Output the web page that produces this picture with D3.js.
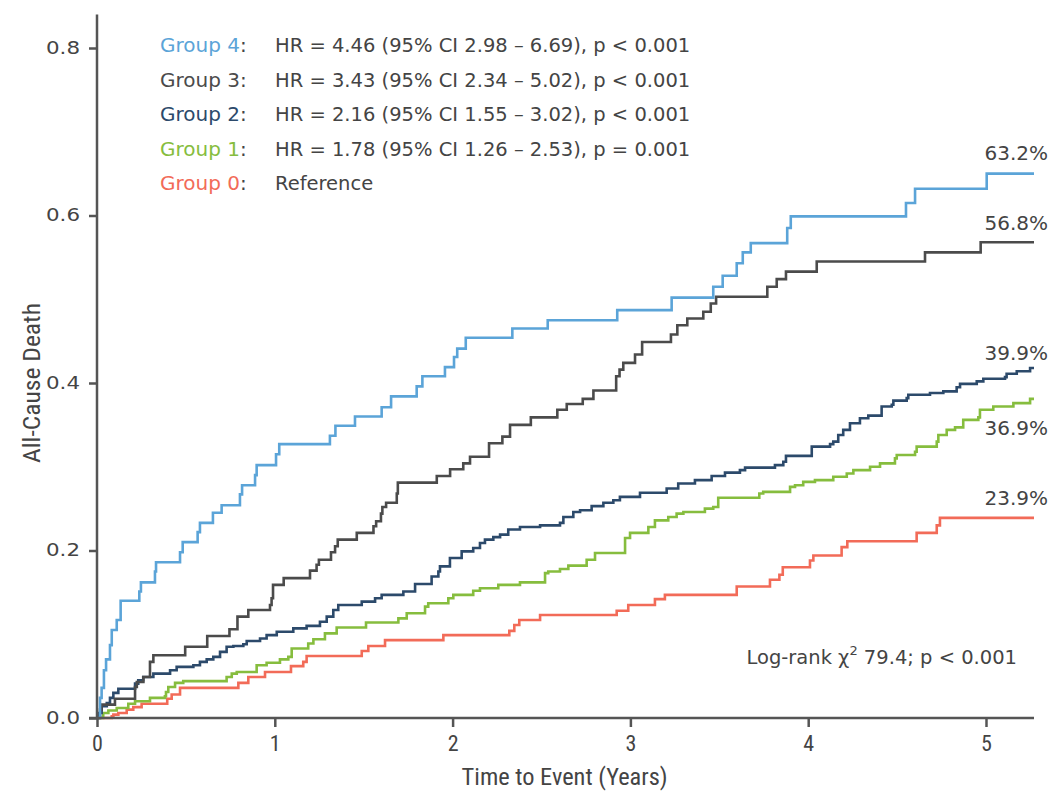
<!DOCTYPE html>
<html>
<head>
<meta charset="utf-8">
<script src="https://cdn.jsdelivr.net/npm/d3@7"></script>
<style>
  body { margin: 0; background: #fff; }
  text { font-family: "DejaVu Sans", sans-serif; fill: #444; }
  .axis path, .axis line { stroke: #555; stroke-width: 2.5; }
  .axis text { font-size: 17px; fill: #444; }
  .xaxis text { font-family: "Liberation Sans Narrow", "Roboto Condensed", sans-serif; font-size: 22px; }
  .title { font-family: "Liberation Sans Narrow", "Roboto Condensed", sans-serif; font-size: 23px; }
</style>
</head>
<body>
<div id="chart"></div>
<script>
// cumulative all-cause death, [years, proportion] at each step
const group4 = [[0,0],[0.017,0.024],[0.026,0.036],[0.039,0.057],[0.051,0.070],[0.073,0.087],[0.083,0.105],
  [0.111,0.117],[0.133,0.140],[0.238,0.151],[0.247,0.162],[0.326,0.175],[0.332,0.186],[0.467,0.198],
  [0.482,0.210],[0.566,0.222],[0.579,0.233],[0.652,0.245],[0.701,0.254],[0.804,0.267],[0.816,0.278],
  [0.889,0.290],[0.898,0.302],[1.007,0.315],[1.025,0.327],[1.31,0.337],[1.341,0.349],[1.451,0.360],
  [1.601,0.371],[1.654,0.384],[1.798,0.396],[1.830,0.408],[1.957,0.419],[2.008,0.431],[2.026,0.441],
  [2.074,0.454],[2.336,0.465],[2.535,0.475],[2.926,0.487],[3.232,0.502],[3.466,0.515],[3.519,0.528],
  [3.598,0.543],[3.632,0.556],[3.677,0.567],[3.882,0.585],[3.902,0.599],[4.55,0.615],[4.601,0.632],
  [5.004,0.650]];

const group3 = [[0,0],[0.017,0.010],[0.026,0.016],[0.101,0.023],[0.214,0.037],[0.224,0.043],[0.261,0.049],
  [0.298,0.067],[0.317,0.075],[0.496,0.085],[0.62,0.098],[0.745,0.106],[0.79,0.121],[0.851,0.129],
  [0.973,0.135],[0.982,0.143],[0.99,0.159],[1.05,0.167],[1.198,0.176],[1.235,0.183],[1.248,0.189],
  [1.316,0.198],[1.339,0.205],[1.354,0.213],[1.461,0.221],[1.555,0.229],[1.57,0.235],[1.597,0.244],
  [1.605,0.252],[1.626,0.257],[1.686,0.268],[1.692,0.281],[1.911,0.289],[1.986,0.297],[2.06,0.304],
  [2.098,0.312],[2.205,0.328],[2.28,0.336],[2.323,0.350],[2.44,0.359],[2.589,0.368],[2.642,0.375],
  [2.732,0.381],[2.792,0.391],[2.92,0.408],[2.939,0.416],[2.96,0.424],[3.026,0.434],[3.066,0.449],
  [3.228,0.458],[3.264,0.469],[3.32,0.477],[3.41,0.485],[3.452,0.495],[3.482,0.503],[3.77,0.515],
  [3.823,0.524],[3.875,0.533],[4.048,0.545],[4.657,0.556],[4.97,0.568]];

const group2 = [[0,0],[0.007,0.006],[0.026,0.014],[0.055,0.018],[0.073,0.024],[0.092,0.030],[0.12,0.035],
  [0.214,0.041],[0.232,0.045],[0.26,0.049],[0.317,0.053],[0.411,0.057],[0.448,0.061],[0.542,0.063],
  [0.579,0.067],[0.617,0.070],[0.654,0.073],[0.692,0.079],[0.729,0.085],[0.767,0.086],[0.823,0.088],
  [0.842,0.092],[0.917,0.095],[0.954,0.099],[1.011,0.103],[1.104,0.107],[1.179,0.110],[1.254,0.115],
  [1.292,0.121],[1.329,0.129],[1.357,0.135],[1.489,0.139],[1.564,0.143],[1.601,0.147],[1.723,0.151],
  [1.789,0.160],[1.882,0.169],[1.92,0.175],[1.929,0.181],[1.985,0.191],[2.051,0.199],[2.116,0.203],
  [2.154,0.209],[2.182,0.213],[2.229,0.216],[2.267,0.219],[2.313,0.225],[2.379,0.228],[2.492,0.230],
  [2.604,0.233],[2.623,0.240],[2.679,0.246],[2.717,0.248],[2.782,0.253],[2.848,0.257],[2.904,0.260],
  [2.941,0.264],[3.054,0.269],[3.204,0.274],[3.269,0.280],[3.363,0.284],[3.457,0.289],[3.532,0.293],
  [3.616,0.296],[3.645,0.299],[3.813,0.302],[3.86,0.306],[3.875,0.313],[4.02,0.324],[4.123,0.327],
  [4.141,0.330],[4.169,0.338],[4.197,0.344],[4.235,0.352],[4.291,0.358],[4.338,0.361],[4.413,0.372],
  [4.47,0.374],[4.479,0.379],[4.554,0.382],[4.563,0.386],[4.685,0.388],[4.76,0.390],[4.835,0.395],
  [4.854,0.399],[4.948,0.402],[4.985,0.405],[5.107,0.407],[5.116,0.411],[5.173,0.414],[5.248,0.418]];

const group1 = [[0,0],[0.035,0.006],[0.064,0.009],[0.111,0.012],[0.176,0.017],[0.214,0.020],[0.298,0.024],
  [0.382,0.026],[0.388,0.031],[0.401,0.037],[0.439,0.042],[0.485,0.044],[0.729,0.049],[0.758,0.053],
  [0.786,0.055],[0.898,0.063],[0.954,0.066],[1.029,0.070],[1.076,0.073],[1.095,0.083],[1.188,0.089],
  [1.217,0.094],[1.282,0.101],[1.348,0.108],[1.513,0.114],[1.695,0.119],[1.742,0.125],[1.845,0.133],
  [1.863,0.137],[1.976,0.143],[2.004,0.147],[2.116,0.152],[2.154,0.155],[2.257,0.159],[2.379,0.162],
  [2.52,0.173],[2.538,0.175],[2.604,0.178],[2.651,0.182],[2.754,0.189],[2.801,0.197],[2.97,0.215],
  [2.998,0.221],[3.101,0.228],[3.138,0.236],[3.213,0.240],[3.26,0.244],[3.298,0.246],[3.419,0.250],
  [3.466,0.252],[3.494,0.263],[3.725,0.268],[3.747,0.270],[3.898,0.276],[3.926,0.278],[3.972,0.282],
  [4.038,0.284],[4.141,0.288],[4.217,0.292],[4.254,0.296],[4.348,0.300],[4.404,0.304],[4.488,0.310],
  [4.498,0.314],[4.601,0.318],[4.61,0.324],[4.723,0.330],[4.732,0.338],[4.779,0.344],[4.826,0.347],
  [4.872,0.356],[4.957,0.359],[4.966,0.368],[5.041,0.372],[5.154,0.376],[5.248,0.381]];

const group0 = [[0,0],[0.083,0.002],[0.092,0.004],[0.12,0.006],[0.167,0.010],[0.204,0.013],[0.251,0.017],
  [0.395,0.023],[0.42,0.028],[0.467,0.036],[0.795,0.042],[0.851,0.049],[0.945,0.055],[1.091,0.062],
  [1.16,0.067],[1.179,0.074],[1.489,0.080],[1.526,0.086],[1.62,0.093],[1.948,0.099],[2.319,0.104],
  [2.347,0.111],[2.375,0.117],[2.492,0.123],[2.923,0.128],[2.988,0.135],[3.138,0.142],[3.194,0.147],
  [3.598,0.157],[3.785,0.165],[3.838,0.171],[3.857,0.180],[4.01,0.188],[4.029,0.194],[4.188,0.204],
  [4.22,0.211],[4.61,0.221],[4.723,0.230],[4.741,0.239]];

const followUpEnd = 5.27;
const groupNames = ["Group 4", "Group 3", "Group 2", "Group 1", "Group 0"];
const groupColors = ["#5ba4d8", "#4b4b4b", "#2c4a6b", "#86bd3e", "#f26b58"];
const hrLabels = ["HR = 4.46 (95% CI 2.98 – 6.69), p < 0.001",
                  "HR = 3.43 (95% CI 2.34 – 5.02), p < 0.001",
                  "HR = 2.16 (95% CI 1.55 – 3.02), p < 0.001",
                  "HR = 1.78 (95% CI 1.26 – 2.53), p = 0.001",
                  "Reference"];
const endLabels = ["63.2%", "56.8%", "39.9%", "36.9%", "23.9%"];
const endLabelAt = [0.632, 0.568, 0.399, 0.369, 0.239];
const endLabelShift = [-29, -12, -24, 26, -13];
const yTicks = [0, 0.2, 0.4, 0.6, 0.8];
const xTicks = [0, 1, 2, 3, 4, 5];

const width = 1053, height = 792;
const svg = d3.select("#chart").append("svg")
    .attr("width", width)
    .attr("height", height);

const x = d3.scaleLinear().domain([0, followUpEnd]).range([97, 1034]);
const y = d3.scaleLinear().domain([0, 0.84]).range([718, 14.5]);

// curves
const line = d3.line()
    .x(d => x(d[0]))
    .y(d => y(d[1]))
    .curve(d3.curveStepAfter);

const series = [group4, group3, group2, group1, group0];
svg.append("g")
  .selectAll("path")
  .data(series.map((s, i) => ({ pts: s.concat([[followUpEnd, s[s.length - 1][1]]]), i })).reverse())
  .join("path")
    .attr("d", d => line(d.pts))
    .attr("fill", "none")
    .attr("stroke", d => groupColors[d.i])
    .attr("stroke-width", 2.6);

// axes
svg.append("g")
    .attr("class", "axis")
    .attr("transform", `translate(${x(0)},0)`)
    .call(d3.axisLeft(y).tickValues(yTicks).tickFormat(d3.format(".1f")).tickSize(8).tickSizeOuter(0).tickPadding(9))
    .call(g => g.select(".domain").attr("d", `M0,${y(0)}V${y(0.84)}`))
    .call(g => g.selectAll(".tick text").attr("textLength", 34).attr("lengthAdjust", "spacingAndGlyphs"));

svg.append("g")
    .attr("class", "axis xaxis")
    .attr("transform", `translate(0,${y(0)})`)
    .call(d3.axisBottom(x).tickValues(xTicks).tickFormat(d3.format("d")).tickSize(9).tickSizeOuter(0).tickPadding(8))
    .call(g => g.select(".domain").attr("d", `M${x(0) - 8},0H${x(followUpEnd)}`));

svg.append("text")
    .attr("class", "title")
    .attr("x", x(2.63))
    .attr("y", 785)
    .attr("text-anchor", "middle")
    .attr("textLength", 206)
    .attr("lengthAdjust", "spacingAndGlyphs")
    .text("Time to Event (Years)");

svg.append("text")
    .attr("class", "title")
    .attr("transform", `translate(40,${y(0.4)}) rotate(-90)`)
    .attr("text-anchor", "middle")
    .attr("textLength", 160)
    .attr("lengthAdjust", "spacingAndGlyphs")
    .text("All-Cause Death");

// legend
const legend = svg.append("g").attr("font-size", 20);
groupNames.forEach((name, i) => {
  const yy = 52 + i * 34.5;
  legend.append("text")
      .attr("x", 160).attr("y", yy)
      .style("fill", groupColors[i])
      .text(name)
    .append("tspan")
      .style("fill", "#444")
      .text(":");
  legend.append("text")
      .attr("x", 275).attr("y", yy)
      .attr("font-size", 19.5)
      .text(hrLabels[i]);
});

// end-of-follow-up labels
svg.append("g")
  .selectAll("text")
  .data(endLabels)
  .join("text")
    .attr("x", 1048)
    .attr("y", (d, i) => y(endLabelAt[i]) + endLabelShift[i])
    .attr("text-anchor", "end")
    .attr("font-size", 20)
    .text(d => d);

// log-rank
const lr = svg.append("text")
    .attr("x", 1017)
    .attr("y", 664)
    .attr("text-anchor", "end")
    .attr("font-size", 19.5);
lr.append("tspan").text("Log-rank χ");
lr.append("tspan").attr("dy", -9).attr("font-size", 13).text("2");
lr.append("tspan").attr("dy", 9).text(" 79.4; p < 0.001");
</script>
</body>
</html>
